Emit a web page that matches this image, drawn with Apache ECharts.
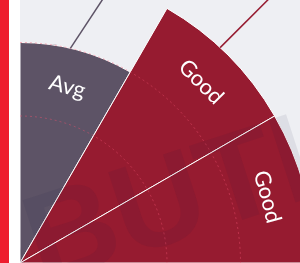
<!DOCTYPE html>
<html>
<head>
<meta charset="utf-8">
<script src="https://cdn.jsdelivr.net/npm/echarts@6/dist/echarts.min.js"></script>
<style>
  html, body { margin: 0; padding: 0; background: #eeeff3; }
  #chart { width: 300px; height: 263px; }
</style>
</head>
<body>
<div id="chart"></div>
<script>
// sectors, clockwise from 12 o'clock
const categories = ['s1', 's2', 's3']
const labels = ['Avg', 'Good', 'Good']
const values = [3, 4, 4]
const radiusMax = 4
const watermark = ['DISTRI', 'BUTION']

const colors = { Avg: '#5d5366', Good: '#961b30' }
const ring = 'rgba(240, 80, 110, 0.45)'
const none = 'rgba(0, 0, 0, 0)'

const chart = echarts.init(document.getElementById('chart'))
chart.setOption({
  backgroundColor: '#eeeff3',
  animation: false,
  polar: {
    center: [20, 263],
    radius: 294
  },
  angleAxis: {
    type: 'category',
    data: categories,
    startAngle: 90,
    endAngle: 0,
    axisLine: { show: false },
    axisTick: { show: false },
    axisLabel: { show: false },
    splitLine: { show: false }
  },
  radiusAxis: {
    type: 'value',
    min: 0,
    max: radiusMax,
    interval: 1,
    z: 10,
    axisLine: { show: false },
    axisTick: { show: false },
    axisLabel: { show: false },
    splitLine: {
      lineStyle: {
        // only the two middle rings are drawn
        color: [none, none, ring, ring, none],
        width: 1,
        type: [2, 3]
      }
    }
  },
  series: [{
    type: 'bar',
    coordinateSystem: 'polar',
    barCategoryGap: '0%',
    data: values.map((v, i) => ({
      value: v,
      itemStyle: { color: colors[labels[i]] }
    })),
    itemStyle: {
      borderColor: '#ffffff',
      borderWidth: 1
    },
    label: {
      show: true,
      position: 'insideEnd',
      rotate: 'tangential',
      distance: 27,
      color: '#ffffff',
      fontFamily: 'Lato',
      fontSize: 22,
      formatter: p => labels[p.dataIndex]
    }
  }]
})

// guide lines leaving the outer edge of the first two sectors
const origin = chart.convertToPixel({ polarIndex: 0 }, [0, 0])
function guide(idx, shiftDeg, deg, color) {
  const p = chart.convertToPixel({ polarIndex: 0 }, [values[idx], idx])
  const s = shiftDeg * Math.PI / 180
  const vx = p[0] - origin[0]
  const vy = p[1] - origin[1]
  const x1 = origin[0] + vx * Math.cos(s) + vy * Math.sin(s)
  const y1 = origin[1] - vx * Math.sin(s) + vy * Math.cos(s)
  const a = deg * Math.PI / 180
  return {
    type: 'line',
    z: 20,
    shape: { x1: x1, y1: y1, x2: x1 + 200 * Math.cos(a), y2: y1 - 200 * Math.sin(a) },
    style: { stroke: color, lineWidth: 1.5 }
  }
}

const wmStyle = {
  fill: 'rgba(20, 30, 60, 0.08)',
  fontFamily: '"Liberation Sans Narrow", "Liberation Sans", sans-serif',
  fontWeight: 'bold',
  fontSize: 126,
  verticalAlign: 'bottom'
}
const wmRot = 18 * Math.PI / 180

chart.setOption({
  graphic: [
    guide(0, 1.8, 56.6, colors.Avg),
    guide(1, 2.1, 45, colors.Good),
    { type: 'text', z: 15, x: 50, y: 312, rotation: wmRot,
      style: Object.assign({ text: watermark[0], align: 'right' }, wmStyle) },
    { type: 'text', z: 15, x: 50, y: 312, rotation: wmRot,
      style: Object.assign({ text: watermark[1], align: 'left' }, wmStyle) },
    { type: 'rect', z: 30, shape: { x: 0, y: 0, width: 9, height: 263 }, style: { fill: '#ee1c2e' } },
    { type: 'rect', z: 30, shape: { x: 9, y: 0, width: 11, height: 263 }, style: { fill: '#ffffff' } }
  ]
})
</script>
</body>
</html>
